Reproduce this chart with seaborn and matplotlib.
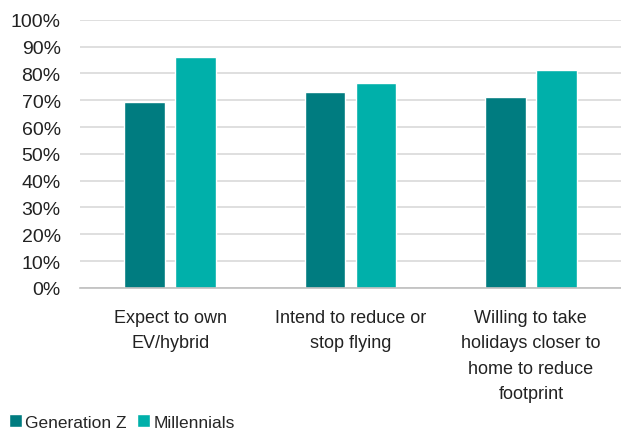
import matplotlib
matplotlib.use("Agg")
import matplotlib.pyplot as plt
import seaborn as sns
import pandas as pd
from matplotlib.patches import Patch
from matplotlib.ticker import PercentFormatter

categories = ["Expect to own\nEV/hybrid",
              "Intend to reduce or\nstop flying",
              "Willing to take\nholidays closer to\nhome to reduce\nfootprint"]
gen_z = [0.693, 0.73, 0.713]
millennials = [0.86, 0.764, 0.813]
groups = ["Generation Z", "Millennials"]
colors = ["#007C80", "#00B0AA"]

df = pd.DataFrame({
    "category": categories * 2,
    "group": [groups[0]] * 3 + [groups[1]] * 3,
    "value": gen_z + millennials,
})

sns.set_style("white")
plt.rcParams["font.family"] = ["Liberation Sans", "DejaVu Sans"]

fig = plt.figure(figsize=(6.21, 4.35), dpi=100)
ax = fig.add_axes([0.129, 0.336, 0.871, 0.616])

sns.barplot(data=df, x="category", y="value", hue="group", hue_order=groups,
            palette=colors, width=0.565, gap=0.2, ax=ax, legend=False,
            saturation=1)

ax.set_ylim(0, 1.0)
ax.set_yticks([i / 10 for i in range(11)])
ax.yaxis.set_major_formatter(PercentFormatter(1.0, decimals=0))
ax.set_xlabel("")
ax.set_ylabel("")
ax.grid(axis="y", color="#D9D9D9", linewidth=1.2)
ax.set_axisbelow(True)
for s in ["top", "left", "right"]:
    ax.spines[s].set_visible(False)
ax.spines["bottom"].set_color("#BFBFBF")
ax.spines["bottom"].set_linewidth(1.2)
ax.tick_params(axis="y", length=0, pad=14, labelsize=14, labelcolor="#222222")
ax.tick_params(axis="x", length=0, pad=15, labelsize=13, labelcolor="#222222")
for lbl in ax.get_xticklabels():
    lbl.set_linespacing(1.66)
    lbl.set_va("top")

handles = [Patch(facecolor=c, label=g) for c, g in zip(colors, groups)]
fig.legend(handles=handles, loc="lower left", bbox_to_anchor=(0.0, -0.01),
           ncol=2, frameon=False, fontsize=12.5, handlelength=0.75,
           handleheight=0.75, handletextpad=0.2, columnspacing=0.6,
           borderaxespad=0.1)

fig.savefig("out.png", dpi=100)
